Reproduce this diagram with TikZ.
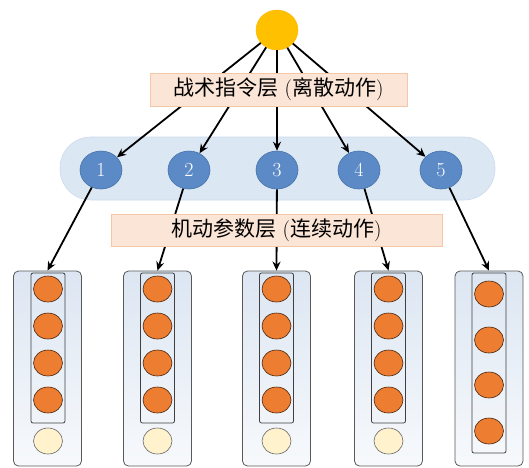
\documentclass[tikz,border=0pt]{standalone}
\usepackage{fontspec}
\newfontfamily\cjk{Noto Sans CJK SC}
\usetikzlibrary{shapes.geometric,arrows.meta}
\definecolor{topY}{HTML}{FFC000}
\definecolor{peach}{HTML}{FBE5D6}
\definecolor{peachB}{HTML}{F4C7A8}
\definecolor{bandF}{HTML}{DCE7F4}
\definecolor{bandB}{HTML}{CBDAEC}
\definecolor{numF}{HTML}{5B8AC6}
\definecolor{numB}{HTML}{4472A8}
\definecolor{orng}{HTML}{ED7D31}
\definecolor{lyel}{HTML}{FFF2CC}
\definecolor{boxTop}{HTML}{DCE6F2}
\definecolor{boxBot}{HTML}{F7F9FC}
\tikzset{
  arr/.style={draw=black, line width=1.8pt, -{Stealth[length=9pt,width=8pt]}},
  topnode/.style={ellipse, fill=topY, draw=topY!85!orange, minimum width=42pt, minimum height=40pt, inner sep=0pt},
  label/.style={rectangle, fill=peach, draw=peachB, line width=0.6pt, inner sep=0pt, font=\fontsize{21}{24}\selectfont},
  band/.style={rectangle, rounded corners=31pt, fill=bandF, draw=bandB, line width=0.6pt, minimum width=435pt, minimum height=63pt},
  numnode/.style={ellipse, fill=numF, draw=numB, line width=0.6pt, minimum width=42pt, minimum height=38pt, inner sep=0pt, text=white, font=\fontsize{20}{22}\selectfont},
  outerbox/.style={rectangle, rounded corners=5pt, draw=black!65, line width=0.8pt, top color=boxTop, bottom color=boxBot, minimum width=68pt, minimum height=195pt},
  innerbox/.style={rectangle, rounded corners=2pt, draw=black!75, line width=0.8pt, minimum width=34pt},
  onode/.style={ellipse, fill=orng, draw=black!70!orng, line width=0.6pt, minimum width=29pt, minimum height=26pt, inner sep=0pt},
  ynode/.style={ellipse, fill=lyel, draw=black!60, line width=0.6pt, minimum width=29pt, minimum height=26pt, inner sep=0pt}
}
\begin{document}
\begin{tikzpicture}[x=1pt,y=-1pt]
\useasboundingbox (0,0) rectangle (529,467);
% band
\node[band] (band) at (277.5,168.5) {};
% bottom boxes
\foreach \i/\bx in {1/47.5, 2/157.5, 3/276.5, 4/388.5, 5/489} {
  \node[outerbox] (b\i) at (\bx,368.5) {};
}
\foreach \i/\ix in {1/48, 2/157.5, 3/276.5, 4/388.5} {
  \node[innerbox, minimum height=150pt] (in\i) at (\ix,348) {};
  \node[onode] (o\i a) at (\ix,289) {};
  \node[onode] (o\i b) at (\ix,326) {};
  \node[onode] (o\i c) at (\ix,363) {};
  \node[onode] (o\i d) at (\ix,400) {};
  \node[ynode] (y\i) at (\ix,441) {};
}
\node[innerbox, minimum height=180pt] (in5) at (489,363) {};
\node[onode] (o5a) at (489,294) {};
\node[onode] (o5b) at (489,340) {};
\node[onode] (o5c) at (489,385) {};
\node[onode] (o5d) at (489,431) {};
% nodes
\node[topnode] (top) at (277,30) {};
\node[numnode] (n1) at (101,170) {1};
\node[numnode] (n2) at (189,170) {2};
\node[numnode] (n3) at (277,170) {3};
\node[numnode] (n4) at (359,170) {4};
\node[numnode] (n5) at (441,170) {5};
% arrows
\foreach \i in {1,...,5} {
  \draw[arr] (top) -- (n\i);
  \draw[arr] (n\i) -- (b\i.north);
}
% labels
\node[label, minimum width=257pt, minimum height=33pt] (l1) at (278.5,89.5) {{\cjk 战术指令层} ({\cjk 离散动作})};
\node[label, minimum width=331pt, minimum height=32pt] (l2) at (276.5,230) {{\cjk 机动参数层} ({\cjk 连续动作})};
\end{tikzpicture}
\end{document}
